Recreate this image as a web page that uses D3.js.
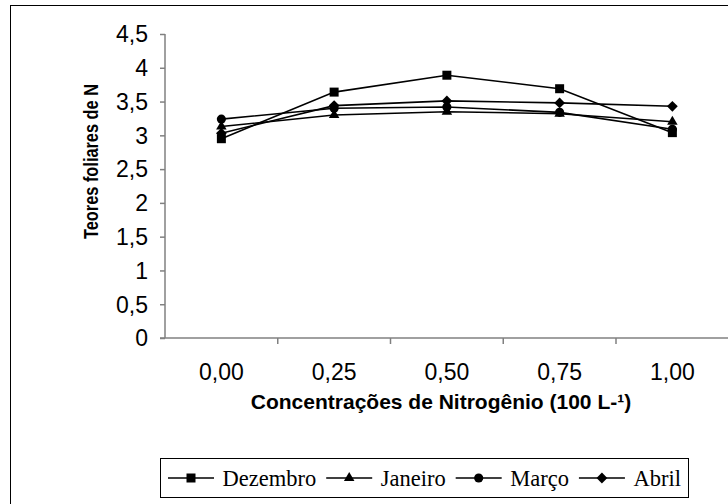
<!DOCTYPE html>
<html>
<head>
<meta charset="utf-8">
<script src="https://cdn.jsdelivr.net/npm/d3@7"></script>
<style>
  body { margin: 0; background: #fff; }
  svg { display: block; }
  .tick-label { font-family: "Liberation Sans", Arial, sans-serif; font-size: 23px; fill: #000; }
  .axis-title { font-family: "Liberation Sans", Arial, sans-serif; font-weight: bold; fill: #000; }
  .legend-text { font-family: "Liberation Serif", "Times New Roman", serif; font-size: 22.5px; fill: #000; }
</style>
</head>
<body>
<svg id="chart" width="728" height="504"></svg>
<script>
'use strict';

// categories (x axis)
var categories = ["0,00", "0,25", "0,50", "0,75", "1,00"];

// series values
var dezembro = [2.95, 3.64, 3.89, 3.69, 3.04];
var janeiro = [3.13, 3.30, 3.35, 3.32, 3.20];
var marco = [3.24, 3.40, 3.42, 3.34, 3.09];
var abril = [3.03, 3.44, 3.51, 3.48, 3.43];

var seriesNames = ["Dezembro", "Janeiro", "Março", "Abril"];
var yTicks = [0, 0.5, 1, 1.5, 2, 2.5, 3, 3.5, 4, 4.5];

var svg = d3.select("#chart");

var plot = { left: 165, right: 728.75, top: 34, bottom: 338 };

var x = d3.scaleBand()
  .domain(categories)
  .range([plot.left, plot.right]);

var y = d3.scaleLinear()
  .domain([0, 4.5])
  .range([plot.bottom, plot.top]);

var fmt = v => String(v).replace(".", ",");

// marker shapes, one per series
var markers = [
  d3.symbol().type(d3.symbolSquare).size(81),
  d3.symbol().type(d3.symbolTriangle).size(48),
  d3.symbol().type(d3.symbolCircle).size(66),
  d3.symbol().type(d3.symbolSquare).size(58)
];
var rotations = [0, 0, 0, 45];

var series = [dezembro, janeiro, marco, abril].map((values, i) => {
  return { name: seriesNames[i], values: values, marker: markers[i], rot: rotations[i] };
});

//
// chart border (cut off at right and bottom)
//
svg.append("rect")
  .attr("x", 10.5).attr("y", 5.5)
  .attr("width", 800).attr("height", 600)
  .attr("fill", "none")
  .attr("stroke", "#000")
  .attr("stroke-width", 1);

//
// axes
//
var yAxis = svg.append("g")
  .attr("transform", "translate(" + plot.left + ",0)")
  .call(d3.axisLeft(y).tickValues(yTicks).tickSize(5).tickFormat(""));

var xAxis = svg.append("g")
  .attr("transform", "translate(0," + plot.bottom + ")")
  .call(d3.axisBottom(x).tickSize(6).tickFormat(""));

// Excel puts ticks between categories, not on them
xAxis.selectAll(".tick").remove();
var edges = categories.map(c => x(c)).concat([x(categories[categories.length - 1]) + x.bandwidth()]);
xAxis.selectAll(".edge")
  .data(edges.slice(1))
  .enter()
  .append("line")
  .attr("class", "edge")
  .attr("x1", d => d).attr("x2", d => d)
  .attr("y1", 0).attr("y2", 6);

[yAxis, xAxis].forEach(a => {
  a.select(".domain").attr("stroke", "#808080").attr("stroke-width", 1.5);
  a.selectAll("line").attr("stroke", "#808080").attr("stroke-width", 1.5);
});
xAxis.select(".domain").attr("d", "M" + (plot.left - 5) + ",0H" + plot.right);
yAxis.select(".domain").attr("d", "M0," + plot.top + "V" + plot.bottom);

// tick labels
svg.append("g")
  .selectAll("text")
  .data(yTicks)
  .enter()
  .append("text")
  .attr("class", "tick-label")
  .attr("x", 148)
  .attr("y", d => y(d))
  .attr("dy", "0.36em")
  .attr("text-anchor", "end")
  .text(fmt);

svg.append("g")
  .selectAll("text")
  .data(categories)
  .enter()
  .append("text")
  .attr("class", "tick-label")
  .attr("x", d => x(d) + x.bandwidth() / 2)
  .attr("y", 380)
  .attr("text-anchor", "middle")
  .text(d => d);

// axis titles
svg.append("text")
  .attr("class", "axis-title")
  .attr("x", 441)
  .attr("y", 409)
  .attr("text-anchor", "middle")
  .style("font-size", "21px")
  .text("Concentrações de Nitrogênio (100 L-¹)");

// rotated title is narrower in the original, squeeze it to the same length
svg.append("text")
  .attr("class", "axis-title")
  .attr("transform", "translate(98,161.5) rotate(-90)")
  .attr("text-anchor", "middle")
  .style("font-size", "19.5px")
  .attr("textLength", 155)
  .attr("lengthAdjust", "spacingAndGlyphs")
  .text("Teores foliares de N");

//
// lines + markers
//
var cx = (d, i) => x(categories[i]) + x.bandwidth() / 2;
var line = d3.line()
  .x(cx)
  .y(d => y(d));

var groups = svg.append("g")
  .selectAll("g")
  .data(series)
  .enter()
  .append("g");

groups.append("path")
  .attr("d", d => line(d.values))
  .attr("fill", "none")
  .attr("stroke", "#000")
  .attr("stroke-width", 1.6);

groups.each(function(s) {
  d3.select(this).selectAll("path.mark")
    .data(s.values)
    .enter()
    .append("path")
    .attr("class", "mark")
    .attr("d", s.marker)
    .attr("transform", (d, i) => "translate(" + cx(d, i) + "," + y(d) + ") rotate(" + s.rot + ")")
    .attr("fill", "#000");
});

//
// legend
//
var legend = svg.append("g");
legend.append("rect")
  .attr("x", 160.5).attr("y", 458.5)
  .attr("width", 528).attr("height", 39)
  .attr("fill", "#fff")
  .attr("stroke", "#000")
  .attr("stroke-width", 1);

var lx = 168;
series.forEach(s => {
  var g = legend.append("g");
  g.append("line")
    .attr("x1", lx).attr("x2", lx + 46)
    .attr("y1", 478).attr("y2", 478)
    .attr("stroke", "#000")
    .attr("stroke-width", 1.6);
  g.append("path")
    .attr("d", s.marker)
    .attr("transform", "translate(" + (lx + 23) + ",478) rotate(" + s.rot + ")")
    .attr("fill", "#000");
  var t = g.append("text")
    .attr("class", "legend-text")
    .attr("x", lx + 54.5)
    .attr("y", 485.5)
    .text(s.name);
  lx = lx + 54.5 + t.node().getComputedTextLength() + 10;
});
</script>
</body>
</html>
